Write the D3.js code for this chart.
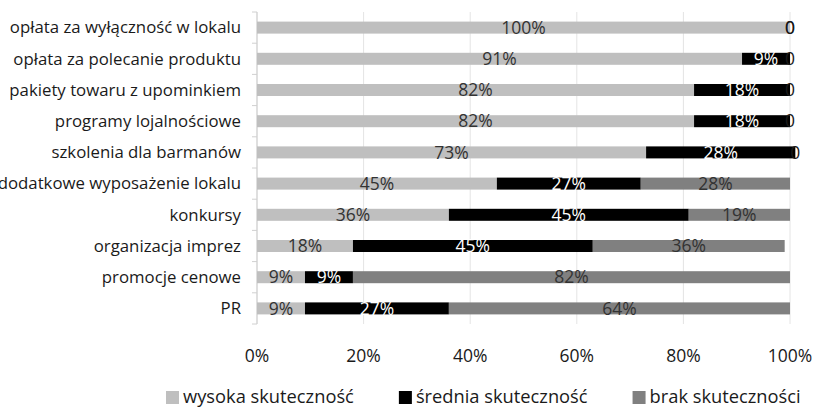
<!DOCTYPE html>
<html>
<head>
<meta charset="utf-8">
<script src="https://cdn.jsdelivr.net/npm/d3@7"></script>
<style>
  body { margin: 0; background: #fff; }
  svg { display: block; font-family: 'Open Sans', sans-serif; }
</style>
</head>
<body>
<div id="chart"></div>
<script>
const categories = [
  'opłata za wyłączność w lokalu',
  'opłata za polecanie produktu',
  'pakiety towaru z upominkiem',
  'programy lojalnościowe',
  'szkolenia dla barmanów',
  'dodatkowe wyposażenie lokalu',
  'konkursy',
  'organizacja imprez',
  'promocje cenowe',
  'PR'
]
const seriesNames = ['wysoka skuteczność', 'średnia skuteczność', 'brak skuteczności']
const wysoka = [100, 91, 82, 82, 73, 45, 36, 18, 9, 9]
const srednia = [0, 9, 18, 18, 28, 27, 45, 45, 9, 27]
const brak = [0, 0, 0, 0, 0, 28, 19, 36, 82, 64]
const xTicks = [0, 20, 40, 60, 80, 100]

const colors = ['#bfbfbf', '#000000', '#808080']
const labelColors = ['#333333', '#ffffff', '#333333']

const width = 815
const height = 410
const margin = { top: 12, right: 25, bottom: 86, left: 257 }

const svg = d3
  .select('#chart')
  .append('svg')
  .attr('width', width)
  .attr('height', height)

const x = d3.scaleLinear().domain([0, 100]).range([margin.left, margin.left + 533])
const y = d3
  .scaleBand()
  .domain(categories)
  .range([margin.top, height - margin.bottom])
  .paddingInner(0.6)
  .paddingOuter(0.3)

// gridlines
svg
  .append('g')
  .selectAll('line')
  .data(xTicks)
  .join('line')
  .attr('x1', (d) => x(d))
  .attr('x2', (d) => x(d))
  .attr('y1', margin.top)
  .attr('y2', height - margin.bottom)
  .attr('stroke', (d) => (d === 0 ? '#bfbfbf' : '#e4e4e4'))
  .attr('stroke-width', 1)

// category axis ticks (between bands)
const step = y.step()
svg
  .append('g')
  .selectAll('line')
  .data(d3.range(categories.length + 1))
  .join('line')
  .attr('x1', x(0) - 5)
  .attr('x2', x(0))
  .attr('y1', (i) => margin.top + i * step)
  .attr('y2', (i) => margin.top + i * step)
  .attr('stroke', '#d0d0d0')

// stack data
const rows = categories.map((c, i) => ({ cat: c, v: [wysoka[i], srednia[i], brak[i]] }))
const segs = []
rows.forEach((r) => {
  let acc = 0
  r.v.forEach((v, s) => {
    segs.push({ cat: r.cat, s: s, v: v, x0: acc, x1: acc + v })
    acc += v
  })
})

const bh = 12
svg
  .append('g')
  .selectAll('rect')
  .data(segs.filter((d) => d.v > 0))
  .join('rect')
  .attr('x', (d) => x(d.x0))
  .attr('width', (d) => x(d.x1) - x(d.x0))
  .attr('y', (d) => y(d.cat) + y.bandwidth() / 2 - bh / 2)
  .attr('height', bh)
  .attr('fill', (d) => colors[d.s])

// value labels
svg
  .append('g')
  .selectAll('text')
  .data(segs)
  .join('text')
  .attr('x', (d) => x((d.x0 + d.x1) / 2))
  .attr('y', (d) => y(d.cat) + y.bandwidth() / 2)
  .attr('dy', '0.35em')
  .attr('text-anchor', 'middle')
  .style('font-size', '17.5px')
  .attr('fill', (d) => (d.v === 0 ? '#1a1a1a' : labelColors[d.s]))
  .text((d) => (d.v === 0 ? '0' : d.v + '%'))

// category labels
svg
  .append('g')
  .selectAll('text')
  .data(categories)
  .join('text')
  .attr('x', x(0) - 16)
  .attr('y', (d) => y(d) + y.bandwidth() / 2)
  .attr('dy', '0.35em')
  .attr('text-anchor', 'end')
  .style('font-size', '16.8px')
  .attr('fill', '#1a1a1a')
  .text((d) => d)

// x tick labels
svg
  .append('g')
  .selectAll('text')
  .data(xTicks)
  .join('text')
  .attr('x', (d) => x(d))
  .attr('y', 356)
  .attr('dy', '0.35em')
  .attr('text-anchor', 'middle')
  .style('font-size', '17.5px')
  .attr('fill', '#1a1a1a')
  .text((d) => d + '%')

// legend
const legend = svg.append('g')
let lx = 166
seriesNames.forEach((name, i) => {
  legend
    .append('rect')
    .attr('x', lx)
    .attr('y', 391)
    .attr('width', 13)
    .attr('height', 13)
    .attr('fill', colors[i])
  const t = legend
    .append('text')
    .attr('x', lx + 17)
    .attr('y', 397)
    .attr('dy', '0.35em')
    .style('font-size', '18.3px')
    .attr('fill', '#1a1a1a')
    .text(name)
  lx += 17 + t.node().getComputedTextLength() + 45
})
</script>
</body>
</html>
